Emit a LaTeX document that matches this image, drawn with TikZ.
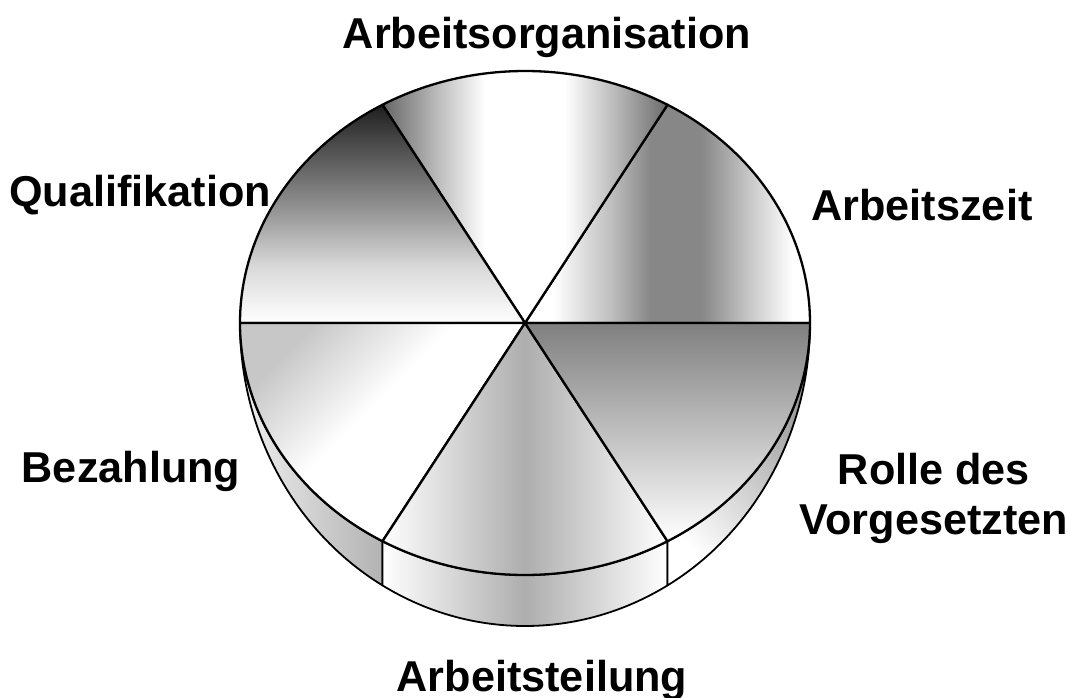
\documentclass[tikz,border=0pt]{standalone}
\usepackage{fontspec}
\setmainfont{Liberation Sans}

\pgfdeclarehorizontalshading{orgashade}{100bp}{color(0bp)=(black!60); color(25bp)=(black!60); color(35bp)=(black!25); color(43bp)=(white); color(57bp)=(white); color(66bp)=(black!28); color(75bp)=(black!58); color(100bp)=(black!58)}
\pgfdeclarehorizontalshading{zeitshade}{100bp}{color(0bp)=(white); color(30bp)=(white); color(40bp)=(black!25); color(47bp)=(black!47); color(56bp)=(black!47); color(65bp)=(black!20); color(72bp)=(white); color(100bp)=(white)}
\pgfdeclareverticalshading{qualishade}{100bp}{color(0bp)=(white); color(25bp)=(white); color(38bp)=(black!15); color(50bp)=(black!40); color(75bp)=(black!88); color(100bp)=(black!88)}
\pgfdeclareverticalshading{zahlshade}{100bp}{color(0bp)=(white); color(25bp)=(white); color(55bp)=(white); color(75bp)=(black!22); color(100bp)=(black!22)}

\begin{document}
\begin{tikzpicture}[x=0.5pt, y=0.5pt,
                pie/.style={draw=black, line width=1.15pt, line join=round},
                rim/.style={draw=black, line width=0.9pt, line join=round},
                lbl/.style={font=\bfseries\fontsize{21.6}{25}\selectfont, anchor=base, inner sep=0pt},
            ]
            \useasboundingbox (-525,323) rectangle (541,-374);
            \coordinate (m) at (0,0);
            % rim
            \path[rim, left color=black!6, right color=black!30] (180:285 and 252) arc[start angle=180, end angle=240, x radius=285, y radius=252] -- (240:285 and 303) arc[start angle=240, end angle=180, x radius=285, y radius=303] -- cycle;
            \path[rim, left color=white, right color=white, middle color=black!32] (240:285 and 252) arc[start angle=240, end angle=300, x radius=285, y radius=252] -- (300:285 and 303) arc[start angle=300, end angle=240, x radius=285, y radius=303] -- cycle;
            \path[rim, top color=black!45, bottom color=white, shading angle=-45] (300:285 and 252) arc[start angle=300, end angle=360, x radius=285, y radius=252] -- (360:285 and 303) arc[start angle=360, end angle=300, x radius=285, y radius=303] -- cycle;
            % slices
            \path[pie, shading=zeitshade] (m) -- (0:285 and 252) arc[start angle=0, end angle=60, x radius=285, y radius=252] -- cycle;
            \path[pie, shading=orgashade] (m) -- (60:285 and 252) arc[start angle=60, end angle=120, x radius=285, y radius=252] -- cycle;
            \path[pie, shading=qualishade] (m) -- (120:285 and 252) arc[start angle=120, end angle=180, x radius=285, y radius=252] -- cycle;
            \path[pie, shading=zahlshade, shading angle=45] (m) -- (180:285 and 252) arc[start angle=180, end angle=240, x radius=285, y radius=252] -- cycle;
            \path[pie, left color=white, right color=white, middle color=black!32] (m) -- (240:285 and 252) arc[start angle=240, end angle=300, x radius=285, y radius=252] -- cycle;
            \path[pie, top color=black!50, bottom color=white] (m) -- (300:285 and 252) arc[start angle=300, end angle=360, x radius=285, y radius=252] -- cycle;
            % labels
            \node[lbl] (orga) at (22,275) {Arbeitsorganisation};
            \node[lbl] (quali) at (-385,117) {Qualifikation};
            \node[lbl] (zeit) at (397,103) {Arbeitszeit};
            \node[lbl] (bezahl) at (-394,-159) {Bezahlung};
            \node[lbl, anchor=center, align=center] (rolle) at (409,-175) {Rolle des\\Vorgesetzten};
            \node[lbl] (teilung) at (17,-368) {Arbeitsteilung};
        \end{tikzpicture}
\end{document}
